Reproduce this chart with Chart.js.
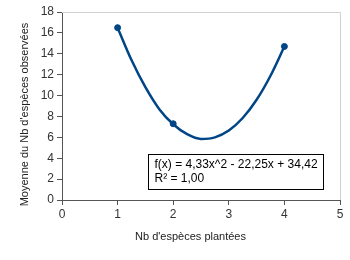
<!DOCTYPE html>
<html><head><meta charset="utf-8">
<script src="https://cdn.jsdelivr.net/npm/chart.js@4/dist/chart.umd.min.js"></script>
<style>html,body{margin:0;padding:0;background:#fff}#w{width:350px;height:260px}</style>
</head><body><div id="w"><canvas id="c"></canvas></div>
<script>
const obsX = [1, 2, 4];
const obsY = [16.5, 7.3, 14.7];
const trendX = [1, 1.25, 1.5, 1.75, 2, 2.25, 2.5, 2.75, 3, 3.25, 3.5, 3.75, 4];
const trendY = [16.5, 13.4, 10.8, 8.7, 7.25, 6.3, 5.85, 6.0, 6.65, 7.85, 9.6, 11.9, 14.7];
const xTitle = "Nb d'espèces plantées";
const yTitle = "Moyenne du Nb d'espèces observées";
const eqLines = ["f(x) = 4,33x^2 - 22,25x + 34,42", "R² = 1,00"];
const blue = '#004586';
const FONT = "'Liberation Sans', Arial, sans-serif";

const framePlugin = {
  id: 'frame',
  afterDraw(chart) {
    const {ctx, chartArea: a} = chart;
    ctx.save();
    ctx.strokeStyle = '#d0d0d0'; ctx.lineWidth = 1;
    ctx.beginPath();
    ctx.moveTo(a.left, a.top + 0.5); ctx.lineTo(a.right + 0.5, a.top + 0.5); ctx.lineTo(a.right + 0.5, a.bottom);
    ctx.stroke();
    // axis titles
    ctx.fillStyle = '#222'; ctx.font = '11px ' + FONT;
    ctx.textAlign = 'center'; ctx.textBaseline = 'middle';
    ctx.fillText(xTitle, 190.5, 237);
    ctx.save();
    ctx.translate(25, 114.5); ctx.rotate(-Math.PI / 2);
    ctx.fillText(yTitle, 0, 0);
    ctx.restore();
    // equation box
    const x0 = 148.5, y0 = 154.5, w = 175, h = 35;
    ctx.fillStyle = '#fff'; ctx.fillRect(x0, y0, w, h);
    ctx.strokeStyle = '#000'; ctx.strokeRect(x0, y0, w, h);
    ctx.fillStyle = '#000'; ctx.font = '12px ' + FONT; ctx.textAlign = 'left'; ctx.textBaseline = 'middle';
    ctx.fillText(eqLines[0], x0 + 6, y0 + 10);
    ctx.fillText(eqLines[1], x0 + 6, y0 + 24);
    ctx.restore();
  }
};

new Chart(document.getElementById('c'), {
  type: 'scatter',
  data: {
    datasets: [
      { data: trendX.map((x, i) => ({x, y: trendY[i]})), showLine: true, borderColor: blue, borderWidth: 2.5,
        pointRadius: 0, tension: 0.4, cubicInterpolationMode: 'monotone', order: 2 },
      { data: obsX.map((x, i) => ({x, y: obsY[i]})), backgroundColor: blue, borderColor: blue,
        pointRadius: 3, pointStyle: 'circle', order: 1 }
    ]
  },
  options: {
    responsive: true, maintainAspectRatio: false, animation: false,
    layout: { padding: { left: 0, top: 12, right: 10, bottom: 0 } },
    plugins: { legend: { display: false }, tooltip: { enabled: false } },
    scales: {
      x: {
        type: 'linear', min: 0, max: 5,
        ticks: { stepSize: 1, color: '#333', font: { family: FONT, size: 12 }, padding: 2 },
        grid: { drawOnChartArea: false, drawTicks: true, tickLength: 5, color: '#555' },
        border: { color: '#555', width: 1 },
        title: { display: false },
        afterFit(s) { s.height = 60; }
      },
      y: {
        min: 0, max: 18,
        ticks: { stepSize: 2, color: '#333', font: { family: FONT, size: 12 }, padding: 3 },
        grid: { drawOnChartArea: false, drawTicks: true, tickLength: 5, color: '#555' },
        border: { color: '#555', width: 1 },
        title: { display: false },
        afterFit(s) { s.width = 62; }
      }
    }
  },
  plugins: [framePlugin]
});
</script></body></html>
